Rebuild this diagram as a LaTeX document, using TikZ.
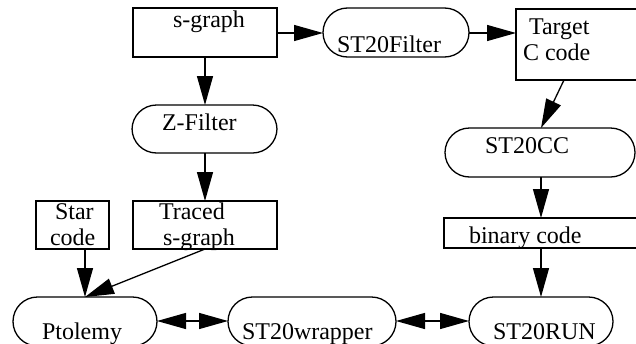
\documentclass[tikz,border=0pt]{standalone}
\usepackage{fontspec}
\setmainfont{Liberation Serif}
\usetikzlibrary{arrows.meta}
\begin{document}
\begin{tikzpicture}[x=1pt,y=-1pt,
  every node/.style={inner sep=0pt, outer sep=0pt},
  box/.style={draw, line width=1.3pt, rectangle, anchor=north west},
  pill/.style={draw, line width=1.3pt, rectangle, rounded corners=24.5pt, anchor=north west},
  txt/.style={anchor=base west, font=\fontsize{24}{28}\selectfont},
  arr/.style={line width=1.3pt, -{Triangle[length=29pt,width=16pt]}},
  darr/.style={line width=1.3pt, {Triangle[length=29pt,width=16pt]}-{Triangle[length=29pt,width=16pt]}}
]
\useasboundingbox (0,0) rectangle (636,343);
\clip (0,0) rectangle (636,343);
% shapes
\node[box, minimum width=144pt, minimum height=49pt] (sg) at (133,8) {};
\node[pill, minimum width=146pt, minimum height=49pt] (sf) at (323,8) {};
\node[box, minimum width=150pt, minimum height=71pt] (tc) at (516,9) {};
\node[pill, minimum width=145pt, minimum height=48pt] (zf) at (132,105) {};
\node[pill, minimum width=190pt, minimum height=49pt] (cc) at (445,128) {};
\node[box, minimum width=73pt, minimum height=48pt] (sc) at (36,201) {};
\node[box, minimum width=144pt, minimum height=48pt] (ts) at (133,201) {};
\node[box, minimum width=220pt, minimum height=30pt] (bc) at (444,218) {};
\node[pill, minimum width=144pt, minimum height=49pt] (pt) at (13,297) {};
\node[pill, minimum width=168pt, minimum height=49pt] (sw) at (228,297) {};
\node[pill, minimum width=144pt, minimum height=49pt] (sr) at (469,297) {};
% texts
\node[txt] (tsg) at (173,27) {s-graph};
\node[txt] (tsf) at (337,52) {ST20Filter};
\node[txt] (ttc1) at (529,34) {Target};
\node[txt] (ttc2) at (523,60) {C code};
\node[txt] (tzf) at (162,130) {Z-Filter};
\node[txt] (tcc) at (485,153) {ST20CC};
\node[txt] (tsc1) at (55,219) {Star};
\node[txt] (tsc2) at (50,245) {code};
\node[txt] (tts1) at (159,219) {Traced};
\node[txt] (tts2) at (163,245) {s-graph};
\node[txt] (tbc) at (469,243) {binary code};
\node[txt] (tpt) at (42,339) {Ptolemy};
\node[txt] (tsw) at (242,339) {ST20wrapper};
\node[txt] (tsr) at (493,339) {ST20RUN};
% connection points
\coordinate (sgR) at (277,33);
\coordinate (sfL) at (323,33);
\coordinate (sfR) at (469,33);
\coordinate (tcL) at (516,33);
\coordinate (sgB) at (205,57);
\coordinate (zfT) at (205,105);
\coordinate (zfB) at (205,153);
\coordinate (tsT) at (205,201);
\coordinate (tcB) at (564,80);
\coordinate (ccT) at (541,128);
\coordinate (ccB) at (541,177);
\coordinate (bcT) at (541,218);
\coordinate (bcB) at (541,248);
\coordinate (srT) at (541,297);
\coordinate (scB) at (85,249);
\coordinate (ptT) at (85,297);
\coordinate (tsB) at (205,249);
\coordinate (ptR) at (157,321);
\coordinate (swL) at (228,321);
\coordinate (swR) at (396,321);
\coordinate (srL) at (469,321);
% connectors
\draw[arr] (sgR) -- (sfL);
\draw[arr] (sfR) -- (tcL);
\draw[arr] (sgB) -- (zfT);
\draw[arr] (zfB) -- (tsT);
\draw[arr] (tcB) -- (ccT);
\draw[arr] (ccB) -- (bcT);
\draw[arr] (bcB) -- (srT);
\draw[arr] (scB) -- (ptT);
\draw[arr] (tsB) -- (ptT);
\draw[darr] (ptR) -- (swL);
\draw[darr] (swR) -- (srL);
\end{tikzpicture}
\end{document}
